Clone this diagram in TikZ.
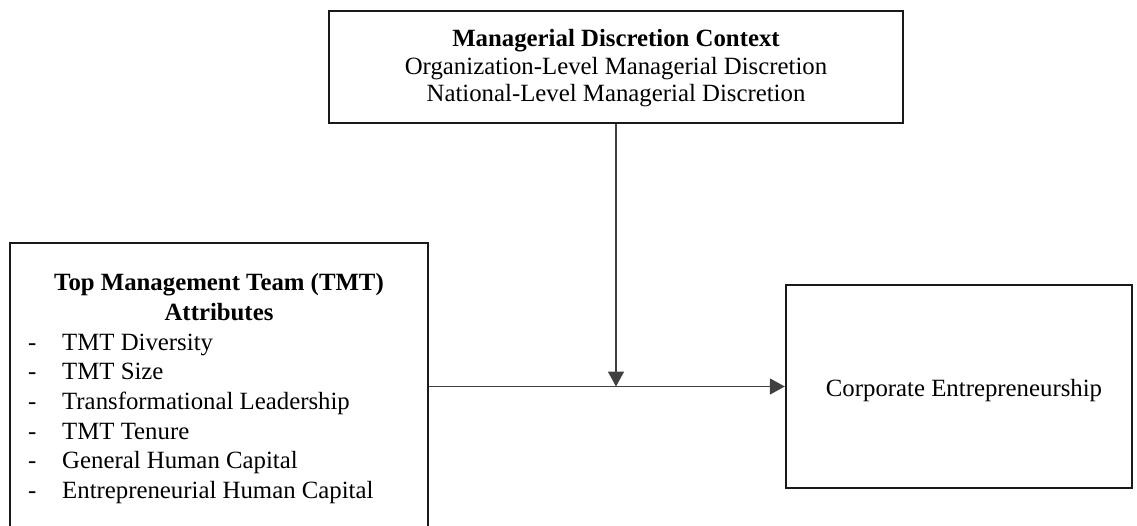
\documentclass[tikz,border=0pt]{standalone}
\usepackage{fontspec}
\setmainfont{Liberation Serif}
\usetikzlibrary{positioning,arrows.meta}
\tikzset{
    boite/.style={draw=black!90,line width=2.4pt,inner sep=0pt},
    fleche/.style={draw=black!75,line width=1.6pt,-{Triangle[length=15pt,width=16pt]}},
    texte/.style={font=\fontsize{24.8}{29.6}\selectfont,inner sep=0pt},
}
\begin{document}
\begin{tikzpicture}[x=1pt,y=-1pt]
  \useasboundingbox (0,0) rectangle (1137,526);
  %CONTEXTE
  \node[boite,minimum width=574pt,minimum height=112pt] (MDC) at (616,67) {};
  \node[texte,anchor=base] (MDCtitre) at (616,47) {\textbf{Managerial Discretion Context}};
  \node[texte,anchor=base] (MDCorg) at (616,74.5) {Organization-Level Managerial Discretion};
  \node[texte,anchor=base] (MDCnat) at (616,102) {National-Level Managerial Discretion};
  %TMT
  \node[boite,minimum width=418pt,minimum height=302pt] (TMT) at (219,394) {};
  \node[texte,anchor=base] (TMTtitre) at (219,291) {\textbf{Top Management Team (TMT)}};
  \node[texte,anchor=base] (TMTattr) at (219,320.6) {\textbf{Attributes}};
  \foreach \i/\t in {0/TMT Diversity,1/TMT Size,2/Transformational Leadership,3/TMT Tenure,4/General Human Capital,5/Entrepreneurial Human Capital}{
    \node[texte,anchor=base west] (tiret\i) at (28,350.2+29.6*\i) {-};
    \node[texte,anchor=base west] (attr\i) at (62,350.2+29.6*\i) {\t};
  }
  %CE
  \node[boite,minimum width=346pt,minimum height=203pt] (CE) at (959,386.5) {};
  \node[texte,anchor=base] (CEtxt) at (964,396) {Corporate Entrepreneurship};
  %fleches
  \draw[fleche] (TMT.east |- CE.west) -- (CE.west);
  \draw[fleche] (MDC.south) -- (MDC.south |- CE.west);
\end{tikzpicture}
\end{document}
